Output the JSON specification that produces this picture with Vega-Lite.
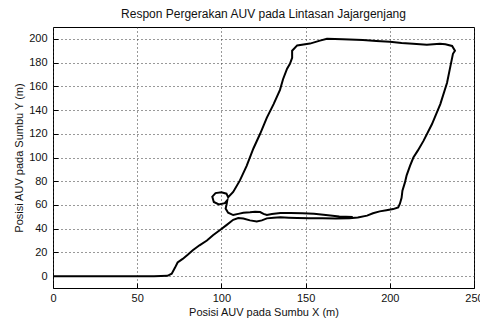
{
  "$schema": "https://vega.github.io/schema/vega-lite/v6.json",
  "width": 421,
  "height": 261,
  "autosize": {"type": "none"},
  "padding": {"left": 53, "top": 27, "right": 6, "bottom": 36},
  "background": "white",
  "title": {
    "text": "Respon Pergerakan AUV pada Lintasan Jajargenjang",
    "font": "Liberation Sans",
    "fontSize": 12,
    "fontWeight": "normal",
    "color": "#111",
    "offset": 6,
    "anchor": "middle"
  },
  "config": {
    "view": {"stroke": "#000", "strokeWidth": 1},
    "axis": {
      "labelFont": "Liberation Sans",
      "titleFont": "Liberation Sans",
      "labelFontSize": 11,
      "titleFontSize": 11,
      "titleFontWeight": "normal",
      "labelColor": "#111",
      "titleColor": "#111",
      "grid": true,
      "gridColor": "#333",
      "gridDash": [1, 3],
      "gridOpacity": 1,
      "domain": false,
      "ticks": true,
      "tickSize": -5,
      "tickColor": "#000",
      "labelBound": false,
      "labelOverlap": false,
      "labelFlush": false
    }
  },
  "data": {
    "values": [
      {"i": 1, "x": 0, "y": 0},
      {"i": 2, "x": 20, "y": 0},
      {"i": 3, "x": 40, "y": 0},
      {"i": 4, "x": 60, "y": 0},
      {"i": 5, "x": 68, "y": 0.3},
      {"i": 6, "x": 70.5, "y": 2},
      {"i": 7, "x": 72.4, "y": 7},
      {"i": 8, "x": 74, "y": 11.5},
      {"i": 9, "x": 77, "y": 14.5},
      {"i": 10, "x": 80, "y": 18},
      {"i": 11, "x": 83, "y": 21.8},
      {"i": 12, "x": 87, "y": 26},
      {"i": 13, "x": 91.4, "y": 30},
      {"i": 14, "x": 95, "y": 34.5},
      {"i": 15, "x": 99, "y": 38.7},
      {"i": 16, "x": 103, "y": 43},
      {"i": 17, "x": 107, "y": 47.5},
      {"i": 18, "x": 110, "y": 49},
      {"i": 19, "x": 113, "y": 48.5},
      {"i": 20, "x": 117, "y": 47},
      {"i": 21, "x": 121, "y": 46},
      {"i": 22, "x": 124, "y": 47},
      {"i": 23, "x": 127, "y": 48.7},
      {"i": 24, "x": 131, "y": 49.3},
      {"i": 25, "x": 135, "y": 49.6},
      {"i": 26, "x": 140, "y": 49.3},
      {"i": 27, "x": 145, "y": 49},
      {"i": 28, "x": 152, "y": 48.7},
      {"i": 29, "x": 160, "y": 48.7},
      {"i": 30, "x": 168, "y": 48.5},
      {"i": 31, "x": 176, "y": 48.7},
      {"i": 32, "x": 181, "y": 49.5},
      {"i": 33, "x": 186.5, "y": 51},
      {"i": 34, "x": 190, "y": 53},
      {"i": 35, "x": 194, "y": 54.6},
      {"i": 36, "x": 198, "y": 55.5},
      {"i": 37, "x": 202, "y": 56.5},
      {"i": 38, "x": 205, "y": 58},
      {"i": 39, "x": 206, "y": 61},
      {"i": 40, "x": 207, "y": 66},
      {"i": 41, "x": 207.5, "y": 72},
      {"i": 42, "x": 209, "y": 79},
      {"i": 43, "x": 210, "y": 85},
      {"i": 44, "x": 212, "y": 93},
      {"i": 45, "x": 214, "y": 100},
      {"i": 46, "x": 216.7, "y": 106},
      {"i": 47, "x": 220, "y": 114},
      {"i": 48, "x": 225, "y": 128},
      {"i": 49, "x": 230, "y": 145},
      {"i": 50, "x": 234, "y": 163},
      {"i": 51, "x": 236, "y": 177},
      {"i": 52, "x": 237.5, "y": 187.4},
      {"i": 53, "x": 238.7, "y": 190},
      {"i": 54, "x": 237, "y": 194},
      {"i": 55, "x": 233, "y": 195.5},
      {"i": 56, "x": 229.8, "y": 195.8},
      {"i": 57, "x": 222, "y": 195},
      {"i": 58, "x": 213.8, "y": 195.8},
      {"i": 59, "x": 207, "y": 196.5},
      {"i": 60, "x": 200, "y": 197.5},
      {"i": 61, "x": 192, "y": 198.3},
      {"i": 62, "x": 184, "y": 199},
      {"i": 63, "x": 172, "y": 199.6},
      {"i": 64, "x": 162.7, "y": 200},
      {"i": 65, "x": 158.5, "y": 198.5},
      {"i": 66, "x": 152.6, "y": 196},
      {"i": 67, "x": 145, "y": 194.5},
      {"i": 68, "x": 142, "y": 190},
      {"i": 69, "x": 142, "y": 184},
      {"i": 70, "x": 140.7, "y": 179},
      {"i": 71, "x": 139, "y": 174.8},
      {"i": 72, "x": 136.6, "y": 166},
      {"i": 73, "x": 134.8, "y": 157},
      {"i": 74, "x": 131, "y": 145},
      {"i": 75, "x": 127, "y": 133.6},
      {"i": 76, "x": 123, "y": 120},
      {"i": 77, "x": 119, "y": 107.6},
      {"i": 78, "x": 115, "y": 93},
      {"i": 79, "x": 111, "y": 80.7},
      {"i": 80, "x": 107, "y": 71},
      {"i": 81, "x": 104, "y": 66.5},
      {"i": 82, "x": 103, "y": 69.5},
      {"i": 83, "x": 100, "y": 70.6},
      {"i": 84, "x": 96.5, "y": 70},
      {"i": 85, "x": 94.6, "y": 67},
      {"i": 86, "x": 95.5, "y": 62.5},
      {"i": 87, "x": 98.5, "y": 60.5},
      {"i": 88, "x": 102, "y": 61.5},
      {"i": 89, "x": 103.5, "y": 64},
      {"i": 90, "x": 103, "y": 60},
      {"i": 91, "x": 102.5, "y": 57},
      {"i": 92, "x": 104, "y": 53.5},
      {"i": 93, "x": 107, "y": 51.5},
      {"i": 94, "x": 110, "y": 52.5},
      {"i": 95, "x": 113, "y": 53.5},
      {"i": 96, "x": 117, "y": 53.8},
      {"i": 97, "x": 120, "y": 54.2},
      {"i": 98, "x": 123, "y": 54},
      {"i": 99, "x": 125, "y": 52.5},
      {"i": 100, "x": 127, "y": 51.5},
      {"i": 101, "x": 130, "y": 52.3},
      {"i": 102, "x": 135, "y": 53.2},
      {"i": 103, "x": 141, "y": 53.3},
      {"i": 104, "x": 148, "y": 53},
      {"i": 105, "x": 155, "y": 52.6},
      {"i": 106, "x": 162, "y": 51.5},
      {"i": 107, "x": 170, "y": 50.2},
      {"i": 108, "x": 178, "y": 49.8}
    ]
  },
  "mark": {"type": "line", "color": "#000", "strokeWidth": 2, "interpolate": "linear", "clip": true},
  "encoding": {
    "order": {"field": "i", "type": "quantitative"},
    "x": {
      "field": "x",
      "type": "quantitative",
      "scale": {"domain": [0, 250], "nice": false, "zero": false},
      "axis": {"values": [0, 50, 100, 150, 200, 250], "title": "Posisi AUV pada Sumbu X (m)", "labelPadding": 9, "titlePadding": 3}
    },
    "y": {
      "field": "y",
      "type": "quantitative",
      "scale": {"domain": [-10, 210], "nice": false, "zero": false},
      "axis": {"values": [0, 20, 40, 60, 80, 100, 120, 140, 160, 180, 200], "title": "Posisi AUV pada Sumbu Y (m)", "labelPadding": 11, "titlePadding": 4}
    }
  }
}
